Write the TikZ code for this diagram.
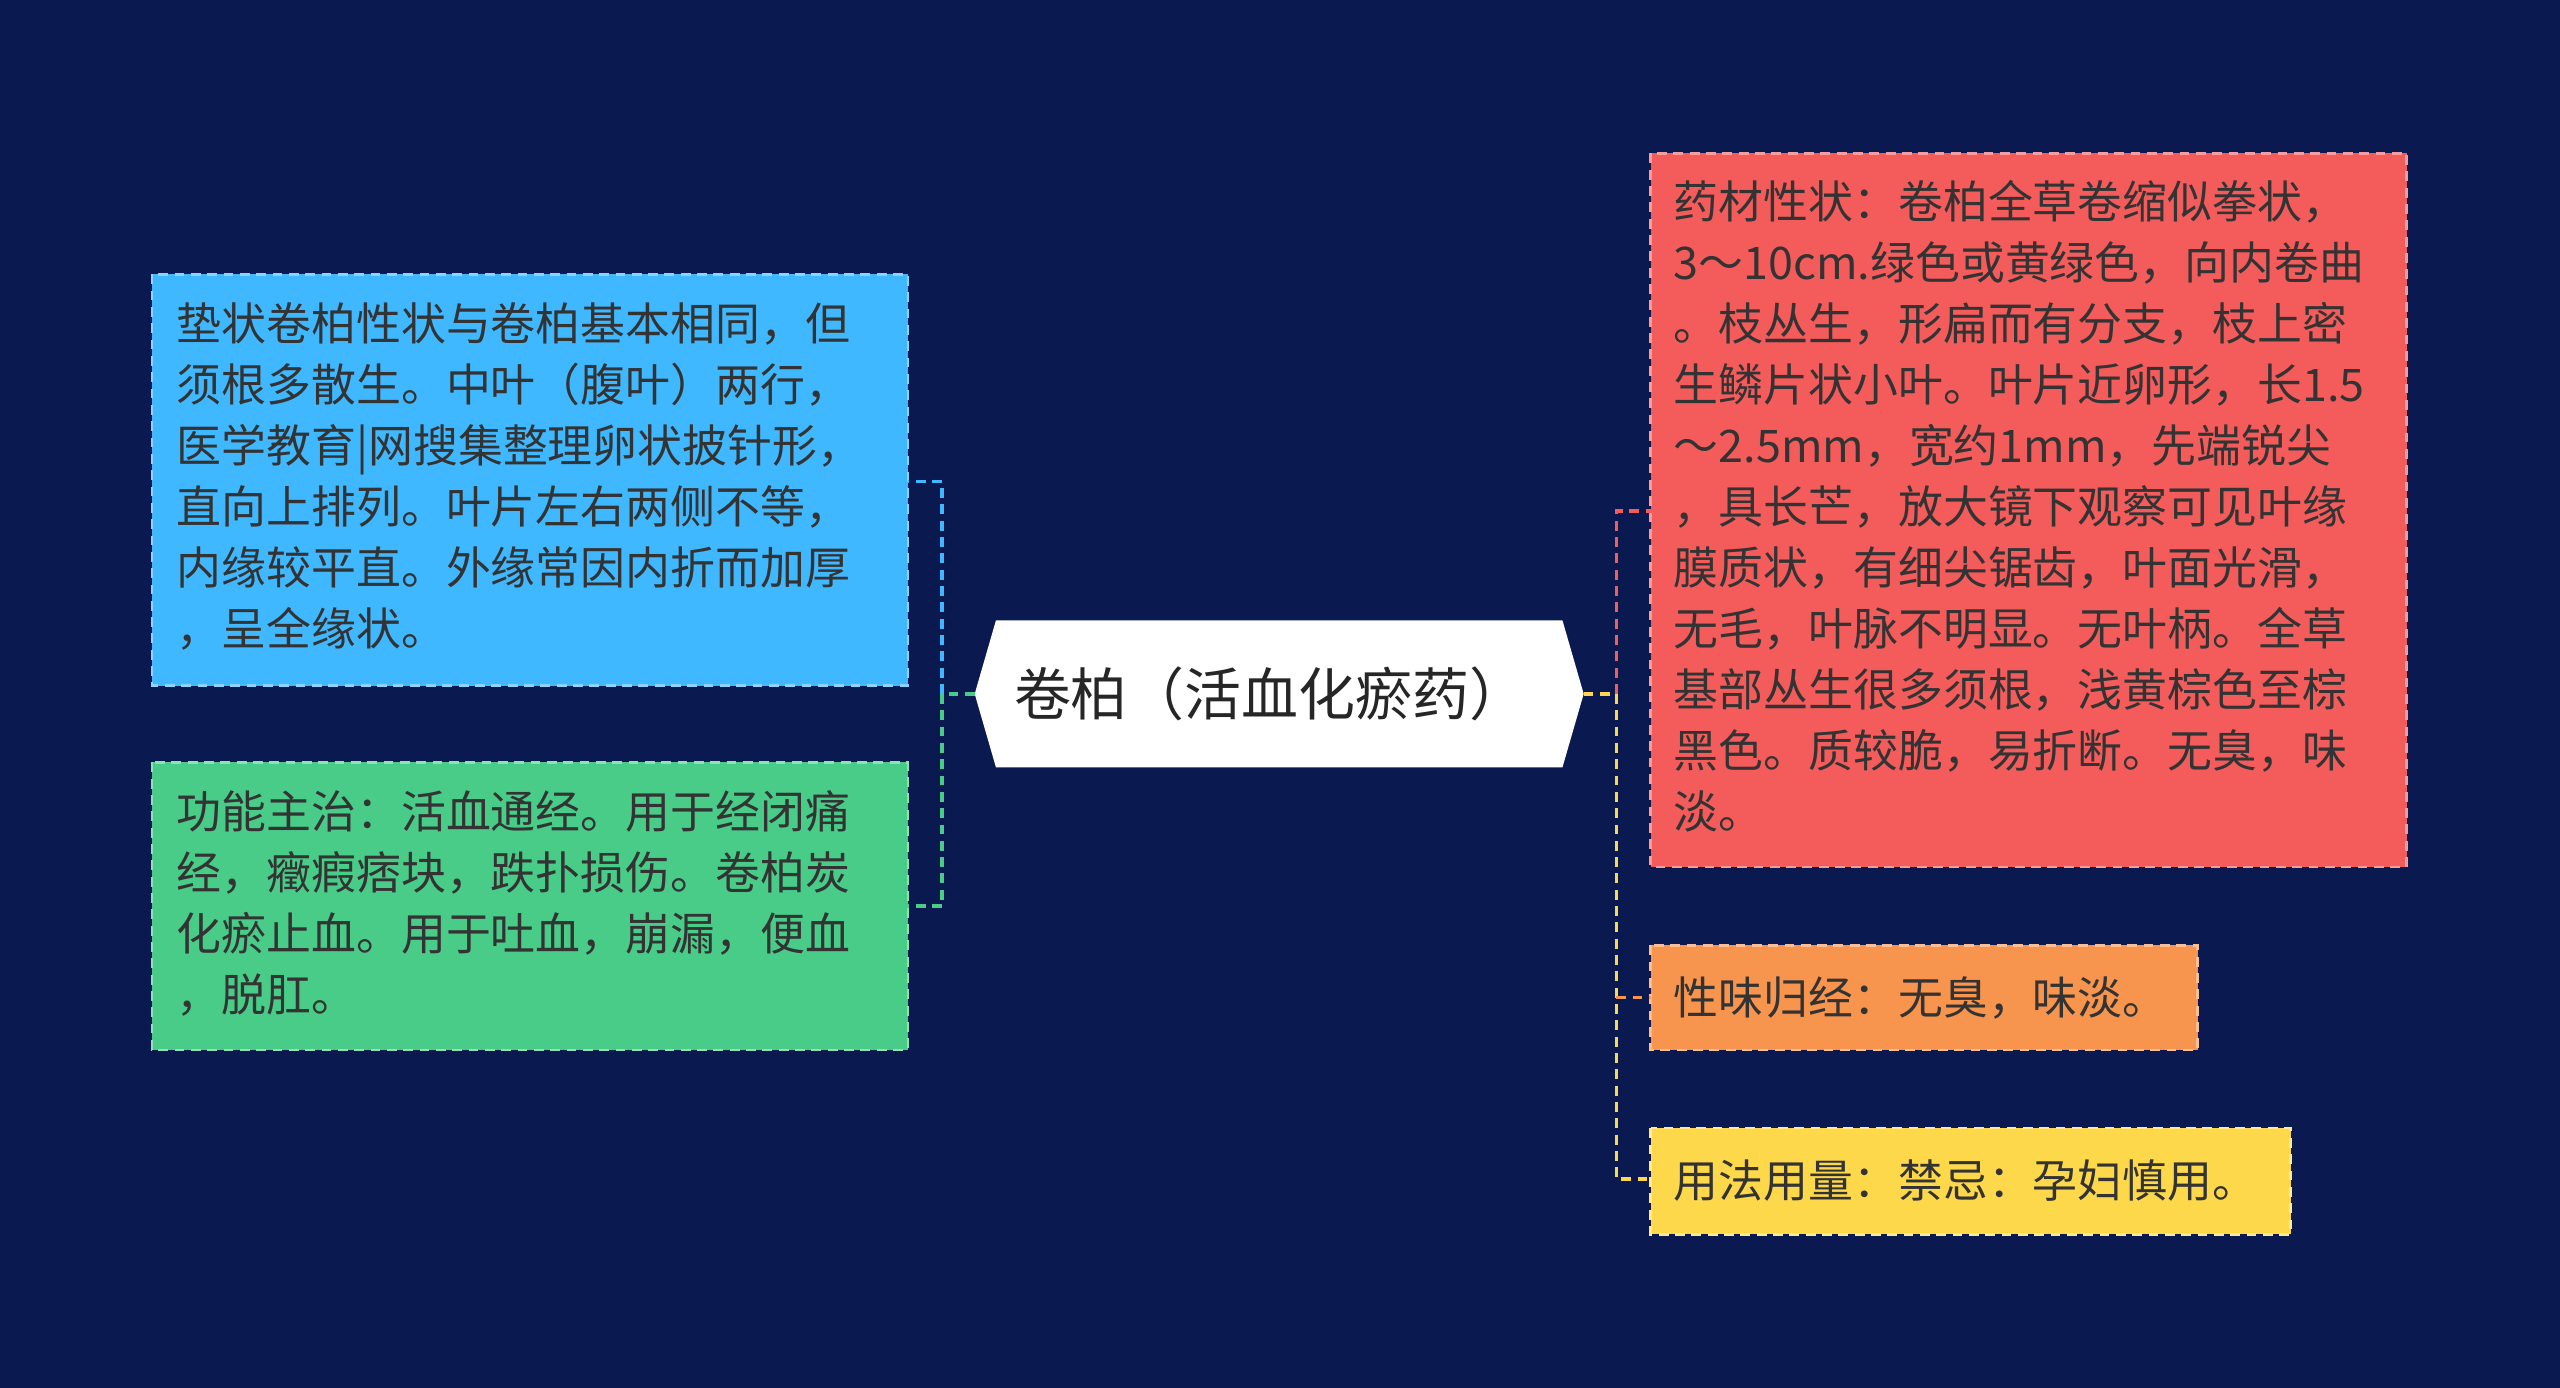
\documentclass[tikz,border=0pt]{standalone}
\usepackage{fontspec}
\setmainfont{Noto Sans CJK SC}
\begin{document}
\begin{tikzpicture}[x=1bp,y=-1bp,
 txt/.style={anchor=north west,align=left,text=black!80,font=\fontsize{27.6}{37.5}\selectfont,inner sep=0},
 bx/.style={fill=#1,draw=#1!60!white,dash pattern=on 6bp off 4bp,line width=1.5bp},
 con/.style={dash pattern=on 6bp off 4bp,line width=2.2bp,draw=#1}]
\definecolor{bg}{HTML}{0B1951}
\definecolor{cb}{HTML}{40B8FF}\definecolor{cg}{HTML}{48CC88}
\definecolor{cr}{HTML}{F45C5C}\definecolor{co}{HTML}{F7954F}\definecolor{cy}{HTML}{FDD84A}
\fill[bg] (0,0) rectangle (1568,850);
\useasboundingbox (0,0) rectangle (1568,850);
% center
\fill[white] (597,425)--(610,380)--(957,380)--(970,425)--(957,470)--(610,470)--cycle;
\node[font=\fontsize{35}{40}\selectfont,text=black!85] (c) at (778,425) {卷柏（活血化瘀药）};
\coordinate (cl) at (597,425); \coordinate (cr) at (970,425);
% boxes
\fill[bx=cb] (93,168) rectangle (556,420);
\node[txt] (b) at (108,185) {垫状卷柏性状与卷柏基本相同，但\\须根多散生。中叶（腹叶）两行，\\医学教育|网搜集整理卵状披针形，\\直向上排列。叶片左右两侧不等，\\内缘较平直。外缘常因内折而加厚\\，呈全缘状。};
\fill[bx=cg] (93,467) rectangle (556,643);
\node[txt] (g) at (108,484) {功能主治：活血通经。用于经闭痛\\经，癥瘕痞块，跌扑损伤。卷柏炭\\化瘀止血。用于吐血，崩漏，便血\\，脱肛。};
\fill[bx=cr] (1011,94) rectangle (1474,531);
\node[txt] (r) at (1025,110) {药材性状：卷柏全草卷缩似拳状，\\3～10cm.绿色或黄绿色，向内卷曲\\。枝丛生，形扁而有分支，枝上密\\生鳞片状小叶。叶片近卵形，长1.5\\～2.5mm，宽约1mm，先端锐尖\\，具长芒，放大镜下观察可见叶缘\\膜质状，有细尖锯齿，叶面光滑，\\无毛，叶脉不明显。无叶柄。全草\\基部丛生很多须根，浅黄棕色至棕\\黑色。质较脆，易折断。无臭，味\\淡。};
\fill[bx=co] (1011,579) rectangle (1346,643);
\node[txt,anchor=west] (o) at (1025,611) {性味归经：无臭，味淡。};
\fill[bx=cy] (1011,691) rectangle (1403,756);
\node[txt,anchor=west] (y) at (1025,723) {用法用量：禁忌：孕妇慎用。};
% connectors
\draw[con=cg] (cl)--(577,425);
\draw[con=cb] (577,425)--(577,295)--(556,295);
\draw[con=cg] (577,425)--(577,555)--(556,555);
\draw[con=cy] (cr)--(990,425);
\draw[con=cr] (990,425)--(990,313)--(1011,313);
\draw[con=cy] (990,425)--(990,722)--(1011,722);
\draw[con=co] (990,611)--(1011,611);
\end{tikzpicture}
\end{document}
